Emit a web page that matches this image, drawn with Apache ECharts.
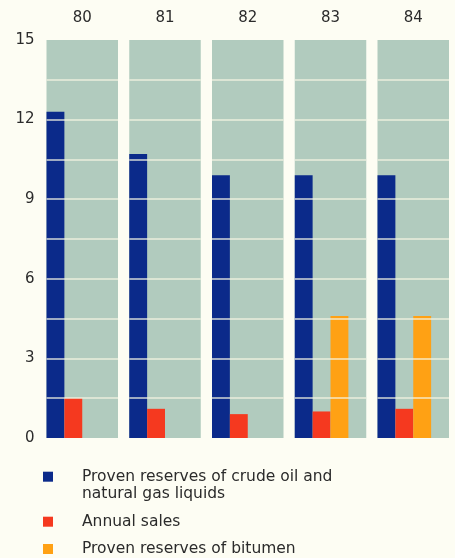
<!DOCTYPE html>
<html>
<head>
<meta charset="utf-8">
<script src="https://cdn.jsdelivr.net/npm/echarts@6/dist/echarts.min.js"></script>
<style>
  html, body { margin: 0; padding: 0; background: #fdfdf3; }
  #chart { width: 455px; height: 558px; }
</style>
</head>
<body>
<div id="chart"></div>
<script>
// Years shown as panel headings
const years = ['80', '81', '82', '83', '84'];
// Billions of barrels
const crudeReserves = [12.3, 10.7, 9.9, 9.9, 9.9];
const annualSales = [1.5, 1.1, 0.9, 1.0, 1.1];
const bitumenReserves = [null, null, null, 4.6, 4.6];
// Value axis ticks
const yTicks = [0, 3, 6, 9, 12, 15];

const seriesDefs = [
  { name: 'Proven reserves of crude oil and natural gas liquids', values: crudeReserves, color: '#0b2a8a' },
  { name: 'Annual sales', values: annualSales, color: '#f5391f' },
  { name: 'Proven reserves of bitumen', values: bitumenReserves, color: '#ffa114' }
];

const FONT = 'DejaVu Sans';
const TEXT = '#2b2b2b';
const PANEL = '#b1cbbe';
const RULE = 'rgba(244,244,226,0.85)';

const panelLeft0 = 46.5, panelStep = 82.75, panelWidth = 71.5;
const panelTop = 40, panelHeight = 398;

const grids = [], xAxes = [], yAxes = [], series = [];
years.forEach((yr, i) => {
  grids.push({
    left: panelLeft0 + i * panelStep, top: panelTop,
    width: panelWidth, height: panelHeight,
    show: true, backgroundColor: PANEL, borderWidth: 0
  });
  xAxes.push({
    gridIndex: i, type: 'category', position: 'top',
    data: ['a', 'b', 'c', 'd'], boundaryGap: true,
    axisLine: { show: false }, axisTick: { show: false }, axisLabel: { show: false },
    name: yr, nameLocation: 'middle', nameGap: 14,
    nameTextStyle: { fontFamily: FONT, fontSize: 15, color: TEXT }
  });
  yAxes.push({
    gridIndex: i, type: 'value', min: yTicks[0], max: yTicks[yTicks.length - 1], interval: 3,
    z: 5,
    axisLine: { show: false }, axisTick: { show: false },
    axisLabel: { show: i === 0, margin: 12, fontFamily: FONT, fontSize: 15, color: TEXT },
    splitLine: { show: true, showMinLine: false, showMaxLine: false, lineStyle: { color: RULE, width: 1.5 } },
    minorTick: { show: false, splitNumber: 2 },
    minorSplitLine: { show: true, lineStyle: { color: RULE, width: 1.5 } }
  });
  seriesDefs.forEach((def, k) => {
    const slot = [null, null, null, null];
    slot[k] = def.values[i];
    series.push({
      type: 'bar', name: def.name, xAxisIndex: i, yAxisIndex: i,
      data: slot, barGap: '-100%', barCategoryGap: 0,
      itemStyle: { color: def.color },
      emphasis: { disabled: true }, silent: true
    });
  });
});

// First entry wraps onto two lines; a leading empty line keeps the
// marker level with the first line of text.
const legendText = { fontFamily: FONT, fontSize: 15.5, color: TEXT, lineHeight: 17, padding: [0, 0, 0, 24] };
const legendTops = [451.2, 513.2, 540.5];
const legends = seriesDefs.map((def, k) => ({
  data: [def.name], orient: 'vertical', left: 43, top: legendTops[k], padding: 0,
  icon: 'rect', itemWidth: 10, itemHeight: 10, selectedMode: false,
  formatter: k === 0 ? () => ' \nProven reserves of crude oil and\nnatural gas liquids' : undefined,
  textStyle: legendText
}));

const chart = echarts.init(document.getElementById('chart'), null, { renderer: 'canvas' });
chart.setOption({
  backgroundColor: '#fdfdf3',
  animation: false,
  grid: grids, xAxis: xAxes, yAxis: yAxes, series: series, legend: legends
});
</script>
</body>
</html>
